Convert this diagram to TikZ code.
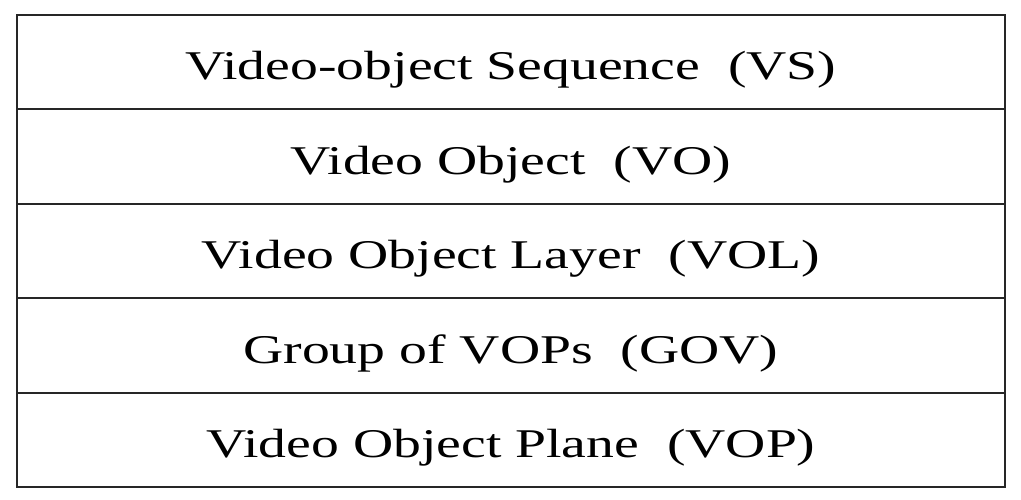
\documentclass[tikz,border=0pt]{standalone}
\usepackage{fontspec}
\setmainfont{Liberation Serif}
\begin{document}
\begin{tikzpicture}[x=1pt,y=-1pt,
  rowbox/.style={draw=black!85,line width=2pt,inner sep=0pt,outer sep=0pt,
    minimum width=988pt,minimum height=94.4pt},
  rowtext/.style={inner sep=0pt,anchor=base,text=black,
    font=\fontsize{40.8pt}{48pt}\selectfont}]
\useasboundingbox (0,0) rectangle (1021,500);
% five stacked layers of the bitstream hierarchy
\node[rowbox] (r1) at (511,62.2) {};
\node[rowbox] (r2) at (511,156.6) {};
\node[rowbox] (r3) at (511,251.0) {};
\node[rowbox] (r4) at (511,345.4) {};
\node[rowbox] (r5) at (511,439.8) {};
% layer names, set on a common baseline inside each row
\node[rowtext] (t1) at ([yshift=-17.8pt]r1.center) {\scalebox{1.365}[1]{Video-object Sequence\ \ (VS)}};
\node[rowtext] (t2) at ([yshift=-17.8pt]r2.center) {\scalebox{1.365}[1]{Video Object\ \ (VO)}};
\node[rowtext] (t3) at ([yshift=-17.8pt]r3.center) {\scalebox{1.365}[1]{Video Object Layer\ \ (VOL)}};
\node[rowtext] (t4) at ([yshift=-17.8pt]r4.center) {\scalebox{1.365}[1]{Group of VOPs\ \ (GOV)}};
\node[rowtext] (t5) at ([yshift=-17.8pt]r5.center) {\scalebox{1.365}[1]{Video Object Plane\ \ (VOP)}};
\end{tikzpicture}
\end{document}
